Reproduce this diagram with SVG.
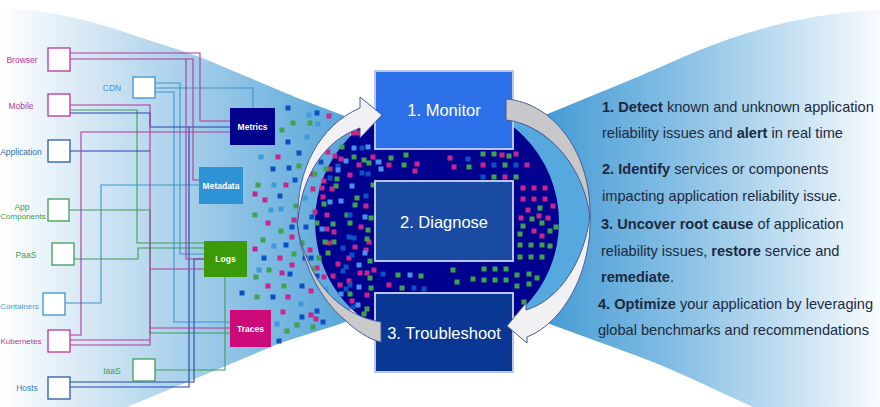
<svg xmlns="http://www.w3.org/2000/svg" width="880" height="407" viewBox="0 0 880 407">
<style>
.lb{font-family:"Liberation Sans",Arial,sans-serif;font-size:8.5px;text-anchor:middle}
.nt{font-family:"Liberation Sans",Arial,sans-serif;font-size:8.5px;font-weight:bold;fill:#fff;text-anchor:middle}
.bt{font-family:"Liberation Sans",Arial,sans-serif;font-size:16.5px;fill:#fff;text-anchor:middle}
.rt{font-family:"Liberation Sans",Arial,sans-serif;font-size:14.6px;fill:#1c2a40}
.rt tspan{font-weight:bold}
.sq{fill:#fff;stroke-width:1.3}
.box{stroke:#b9c5ea;stroke-width:2}
.d{fill:none;stroke-width:5;stroke-linecap:square}
.c{fill:none;stroke-width:1.1}
.mg{stroke:#b5379a}.gr{stroke:#3f9e55}.bl{stroke:#2446b0}.lt{stroke:#3f93cc}
.arr{stroke:#4b5a96;stroke-width:1}
</style>
<defs>
<linearGradient id="lg" gradientUnits="userSpaceOnUse" x1="0" y1="0" x2="345" y2="0"><stop offset="0" stop-color="#fff"/><stop offset=".3" stop-color="#cfe4f3"/><stop offset=".6" stop-color="#9ccae8"/><stop offset="1" stop-color="#58a6da"/></linearGradient>
<linearGradient id="rg" gradientUnits="userSpaceOnUse" x1="530" y1="0" x2="880" y2="0"><stop offset="0" stop-color="#3e97d3"/><stop offset=".4" stop-color="#82bde3"/><stop offset=".7" stop-color="#bcdcf0"/><stop offset="1" stop-color="#f8fbfe"/></linearGradient>
</defs>
<rect width="880" height="407" fill="#fff"/>
<path d="M0 8C50 10 90 20 133 35C160 44 180 50 200 57L300 99L350 118L350 320L337 325L280 343L233 363L127 407L0 407Z" fill="url(#lg)"/>
<path d="M520 125L550 113L640 76C700 50 760 18 880 9L880 407L753 407C715 390 680 372 640 357L547 323L520 313Z" fill="url(#rg)"/>
<path d="M513 120C555 135 588 175 588 220C588 260 560 295 527 312L500 320Z" fill="#55a9de"/>
<circle cx="437" cy="222" r="122" fill="#00008f"/>
<g id="dots">
<path class="d" stroke="#c9258c" d="M329 116h0M278 157h0M286 185h0M255 194h0M265 200h0M294 220h0M268 223h0M313 189h0M315 212h0M353 133h0M358 133h0M328 152h0M335 156h0M341 159h0M373 157h0M359 165h0M312 174h0M330 169h0M350 175h0M324 181h0M322 188h0M332 189h0M323 197h0M366 206h0M327 215h0M361 227h0M327 229h0M334 232h0M292 237h0M255 249h0M310 250h0M280 258h0M292 265h0M317 268h0M282 273h0M324 277h0M268 286h0M311 291h0M288 297h0M283 312h0M311 315h0M316 319h0M329 243h0M369 242h0M355 247h0M366 250h0M349 258h0M338 264h0M360 273h0M367 273h0M374 270h0M333 276h0M349 281h0M340 285h0M367 295h0M352 301h0M389 165h0M417 164h0M415 171h0M450 158h0M454 167h0M502 155h0M516 154h0M483 165h0M527 165h0M505 177h0M389 285h0M523 188h0M534 188h0M545 188h0M523 199h0M534 199h0M545 199h0M553 206h0M528 210h0M539 216h0M548 218h0M521 218h0M534 231h0M542 236h0"/>
<path class="d" stroke="#3fa34d" d="M293 123h0M310 123h0M282 130h0M299 166h0M258 185h0M255 215h0M296 206h0M342 147h0M354 157h0M364 160h0M369 163h0M326 169h0M315 174h0M337 179h0M336 186h0M373 185h0M357 198h0M324 204h0M355 205h0M347 215h0M371 218h0M350 223h0M333 224h0M317 223h0M281 231h0M263 240h0M302 243h0M294 254h0M319 258h0M269 270h0M313 269h0M256 277h0M284 286h0M257 297h0M297 325h0M313 327h0M287 331h0M368 230h0M325 242h0M334 242h0M367 239h0M328 253h0M370 261h0M370 278h0M371 288h0M350 294h0M367 309h0M364 314h0M391 158h0M406 155h0M404 165h0M469 167h0M483 154h0M494 154h0M509 156h0M505 165h0M494 177h0M516 177h0M398 275h0M421 276h0M402 288h0M453 270h0M457 282h0M473 279h0M484 269h0M495 269h0M506 269h0M484 280h0M495 280h0M506 280h0M517 275h0M517 286h0M529 274h0M529 284h0M537 278h0M520 257h0M531 257h0M542 257h0M524 302h0M540 208h0M532 219h0M542 223h0M523 226h0M556 227h0M550 231h0M520 234h0M520 245h0M531 245h0M542 245h0M550 246h0"/>
<path class="d" stroke="#0b50c4" d="M288 108h0M317 113h0M288 142h0M299 153h0M273 169h0M289 168h0M295 180h0M280 196h0M312 217h0M362 148h0M321 162h0M338 166h0M362 173h0M368 174h0M330 178h0M366 196h0M350 215h0M292 227h0M306 227h0M286 245h0M264 258h0M305 258h0M311 258h0M290 274h0M317 276h0M302 286h0M242 293h0M273 297h0M317 311h0M302 317h0M323 322h0M279 341h0M349 237h0M354 238h0M343 248h0M352 255h0M346 267h0M343 271h0M350 285h0M346 289h0M353 307h0M468 159h0M494 165h0M516 165h0M483 177h0M383 274h0M414 288h0M424 289h0"/>
<path class="d" stroke="#3f9ad8" d="M309 115h0M318 124h0M307 137h0M261 157h0M274 185h0M271 210h0M281 209h0M305 198h0M274 246h0M259 270h0M326 289h0M301 304h0M277 324h0"/>
<path class="d" stroke="#4c90ee" d="M354 148h0M368 147h0M346 161h0M378 162h0M338 170h0M352 186h0M330 202h0M341 201h0M365 217h0M322 229h0M365 253h0M359 265h0M359 287h0M341 294h0M358 305h0M379 162h0M381 169h0M410 275h0"/>
</g>
<g id="connectors">
<path class="c gr" d="M70 110H137V243H204M69 210H150V333H230M74 259H138V248H204M155 370H225V277"/>
<path class="c lt" d="M155 83H180V254H204M155 88H253V108M155 92H174V322H230M65 303H101V185H199"/>
<path class="c bl" d="M70 113H150V127H230M70 151H150M70 382H194V259H204M70 387H189V127"/>
<path class="c mg" d="M70 53H200V121H230M70 59H193V180H199M70 59H186V259H204M70 105H150V345H70M150 269H204M150 328H230M70 335H81V132H230M70 340H150"/>
</g>
<g id="browser"><rect class="sq mg" x="48" y="48" width="22" height="23"/><text class="lb" x="22" y="63" fill="#b5379a">Browser</text></g>
<g id="mobile"><rect class="sq mg" x="48" y="94" width="22" height="22"/><text class="lb" x="21" y="109" fill="#b5379a">Mobile</text></g>
<g id="application"><rect class="sq" stroke="#2c5a9e" x="48" y="140" width="22" height="22"/><text class="lb" x="21" y="155" fill="#2e6cb0">Application</text></g>
<g id="app-components"><rect class="sq gr" x="48" y="199" width="21" height="22"/><text class="lb" x="22" y="210" fill="#3a9f4a">App</text><text class="lb" x="23" y="219" font-size="8" style="font-size:8px" fill="#3a9f4a">Components</text></g>
<g id="paas"><rect class="sq gr" x="52" y="243" width="22" height="22"/><text class="lb" x="26" y="258" fill="#3a9f4a">PaaS</text></g>
<g id="containers"><rect class="sq lt" x="43" y="293" width="22" height="22"/><text class="lb" x="19.500" y="309" style="font-size:8px" fill="#4a9ad0">Containers</text></g>
<g id="kubernetes"><rect class="sq mg" x="48" y="330" width="22" height="22"/><text class="lb" x="21" y="344" style="font-size:8px" fill="#b5379a">Kubernetes</text></g>
<g id="hosts"><rect class="sq" stroke="#2c5a9e" x="48" y="377" width="22" height="22"/><text class="lb" x="27" y="391" fill="#3a80c0">Hosts</text></g>
<g id="cdn"><rect class="sq lt" x="133" y="77" width="22" height="21"/><text class="lb" x="112" y="91" fill="#4a90c8">CDN</text></g>
<g id="iaas"><rect class="sq gr" x="133" y="359" width="22" height="22"/><text class="lb" x="112" y="374" fill="#3a9f4a">IaaS</text></g>
<g id="metrics"><rect x="230" y="108" width="45" height="37" fill="#00008b"/><text class="nt" x="252.5" y="130">Metrics</text></g>
<g id="metadata"><rect x="199" y="167" width="44" height="37" fill="#2e92d6"/><text class="nt" x="221" y="189">Metadata</text></g>
<g id="logs"><rect x="204" y="241" width="43" height="36" fill="#3a9a0a"/><text class="nt" x="225.500" y="262">Logs</text></g>
<g id="traces"><rect x="230" y="310" width="41" height="37" fill="#cc0a78"/><text class="nt" x="250.500" y="332">Traces</text></g>
<g id="monitor"><rect class="box" x="375" y="71" width="138" height="78" fill="#2b70e8"/><text class="bt" x="444" y="116">1. Monitor</text></g>
<g id="diagnose"><rect class="box" x="375" y="181" width="138" height="80" fill="#1a4ba2"/><text class="bt" x="444" y="228">2. Diagnose</text></g>
<g id="troubleshoot"><rect class="box" x="375" y="293" width="138" height="79" fill="#0a3794"/><text class="bt" x="444" y="339">3. Troubleshoot</text></g>
<g id="arrows">
<path class="arr" fill="#f1f1f4" d="M298 220C296 170 320 125 360 108V97L382 115L360 138V128C325 140 302 175 298 220Z"/>
<path class="arr" fill="#cacaca" d="M297 220C300 260 320 300 345 320C355 330 370 340 381 342V322C355 318 325 300 310 265C303 250 298 235 297 220Z"/>
<path class="arr" fill="#c8c8ca" d="M506 99C555 103 592 155 590 218C585 170 550 125 506 120Z"/>
<path class="arr" fill="#f1f1f4" d="M590 215C592 270 565 322 527 337V343L507 326L526 303V310C560 300 585 260 590 215Z"/>
</g>
<g id="description">
<text class="rt" x="602" y="112"><tspan>1. Detect</tspan> known and unknown application</text>
<text class="rt" x="602" y="138">reliability issues and <tspan>alert</tspan> in real time</text>
<text class="rt" x="602" y="174"><tspan>2. Identify</tspan> services or components</text>
<text class="rt" x="602" y="201">impacting application reliability issue.</text>
<text class="rt" x="601" y="229"><tspan>3. Uncover root cause</tspan> of application</text>
<text class="rt" x="601" y="256">reliability issues, <tspan>restore</tspan> service and</text>
<text class="rt" x="601" y="282"><tspan>remediate</tspan>.</text>
<text class="rt" x="598" y="309"><tspan>4. Optimize</tspan> your application by leveraging</text>
<text class="rt" x="598" y="335">global benchmarks and recommendations</text>
</g>
</svg>
